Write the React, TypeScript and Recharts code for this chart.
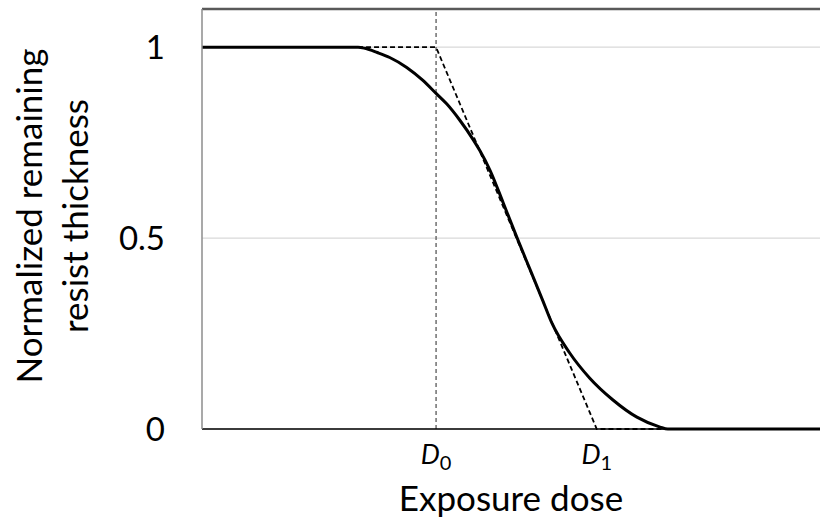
import React from 'react';
import {
  LineChart,
  Line,
  XAxis,
  YAxis,
  CartesianGrid,
  ReferenceLine,
} from 'recharts';

// dose in arbitrary units, thickness normalized
const doses = [0, 1.79, 2.02, 2.11, 2.27, 2.43, 2.65, 2.86, 3.03, 3.17, 3.34, 3.51, 3.6, 3.73, 3.9, 4.08, 4.25, 4.41, 4.53, 4.76, 5.02, 5.32, 5.63, 5.93, 6.03, 8];
const thickness = [1, 1, 1, 0.997, 0.986, 0.973, 0.947, 0.913, 0.879, 0.851, 0.808, 0.758, 0.728, 0.677, 0.592, 0.5, 0.416, 0.337, 0.277, 0.199, 0.133, 0.076, 0.031, 0.005, 0, 0];

// ideal (linearized) contrast curve
const idealDoses = [2.02, 3.03, 5.11, 6.03];
const idealThickness = [1, 1, 0, 0];

const D0 = 3.03;
const D1 = 5.11;
const doseTicks = [D0, D1];
const doseTickNames = ['0', '1'];
const thicknessTicks = [0, 0.5, 1];

const curve = doses.map((d, i) => ({ dose: d, t: thickness[i] }));
const ideal = idealDoses.map((d, i) => ({ dose: d, t: idealThickness[i] }));

const FONT = 'Lato, "Open Sans", sans-serif';

const DoseTick = (props: any) => {
  const { x, y, payload } = props;
  const idx = doseTicks.indexOf(payload.value);
  return (
    <text x={x} y={y + 27} textAnchor='middle' fill='#000' fontFamily={FONT}>
      <tspan fontStyle='italic' fontSize={27}>D</tspan>
      <tspan fontSize={20} dy={6}>{doseTickNames[idx]}</tspan>
    </text>
  );
};

const ThicknessTick = (props: any) => {
  const { x, y, payload } = props;
  return (
    <text x={x - 29} y={y} dy='0.36em' textAnchor='end' fill='#000' fontSize={33} fontFamily={FONT}>
      {String(payload.value)}
    </text>
  );
};

const YTitle = () => (
  <text textAnchor='middle' fill='#000' fontSize={35} fontFamily={FONT} transform='translate(0 216) rotate(-90)'>
    <tspan x={0} y={42}>Normalized remaining</tspan>
    <tspan x={0} y={88}>resist thickness</tspan>
  </text>
);

const XTitle = (props: any) => {
  const { viewBox } = props;
  return (
    <text x={viewBox.x + viewBox.width / 2} y={viewBox.y + 82} textAnchor='middle' fill='#000' fontSize={35} fontFamily={FONT}>
      Exposure dose
    </text>
  );
};

const App = () => {
  return (
    <div style={{ position: 'absolute', left: 0, top: 0, background: '#fff' }}>
      <LineChart width={820} height={521} margin={{ top: 9, right: 0, left: 0, bottom: 0 }}>
        <CartesianGrid vertical={false} stroke='#d9d9d9' strokeWidth={1.2} />
        <XAxis
          type='number'
          dataKey='dose'
          domain={[0, 8]}
          ticks={doseTicks}
          tick={<DoseTick />}
          tickLine={false}
          axisLine={{ stroke: '#000', strokeWidth: 1.5 }}
          height={92}
          allowDataOverflow
          label={<XTitle />}
        />
        <YAxis
          type='number'
          domain={[0, 1.1]}
          ticks={thicknessTicks}
          tick={<ThicknessTick />}
          tickLine={false}
          axisLine={{ stroke: '#8c8c8c', strokeWidth: 1.5 }}
          width={202}
          label={<YTitle />}
        />
        <ReferenceLine y={1.1} stroke='#595959' strokeWidth={2.5} />
        <ReferenceLine x={D0} stroke='#595959' strokeWidth={1.3} strokeDasharray='4 3' />
        <Line
          data={ideal}
          dataKey='t'
          type='linear'
          stroke='#000'
          strokeWidth={1.8}
          strokeDasharray='5 3'
          dot={false}
          isAnimationActive={false}
        />
        <Line
          data={curve}
          dataKey='t'
          type='monotone'
          stroke='#000'
          strokeWidth={3}
          dot={false}
          isAnimationActive={false}
        />
      </LineChart>
    </div>
  );
};

export default App;
